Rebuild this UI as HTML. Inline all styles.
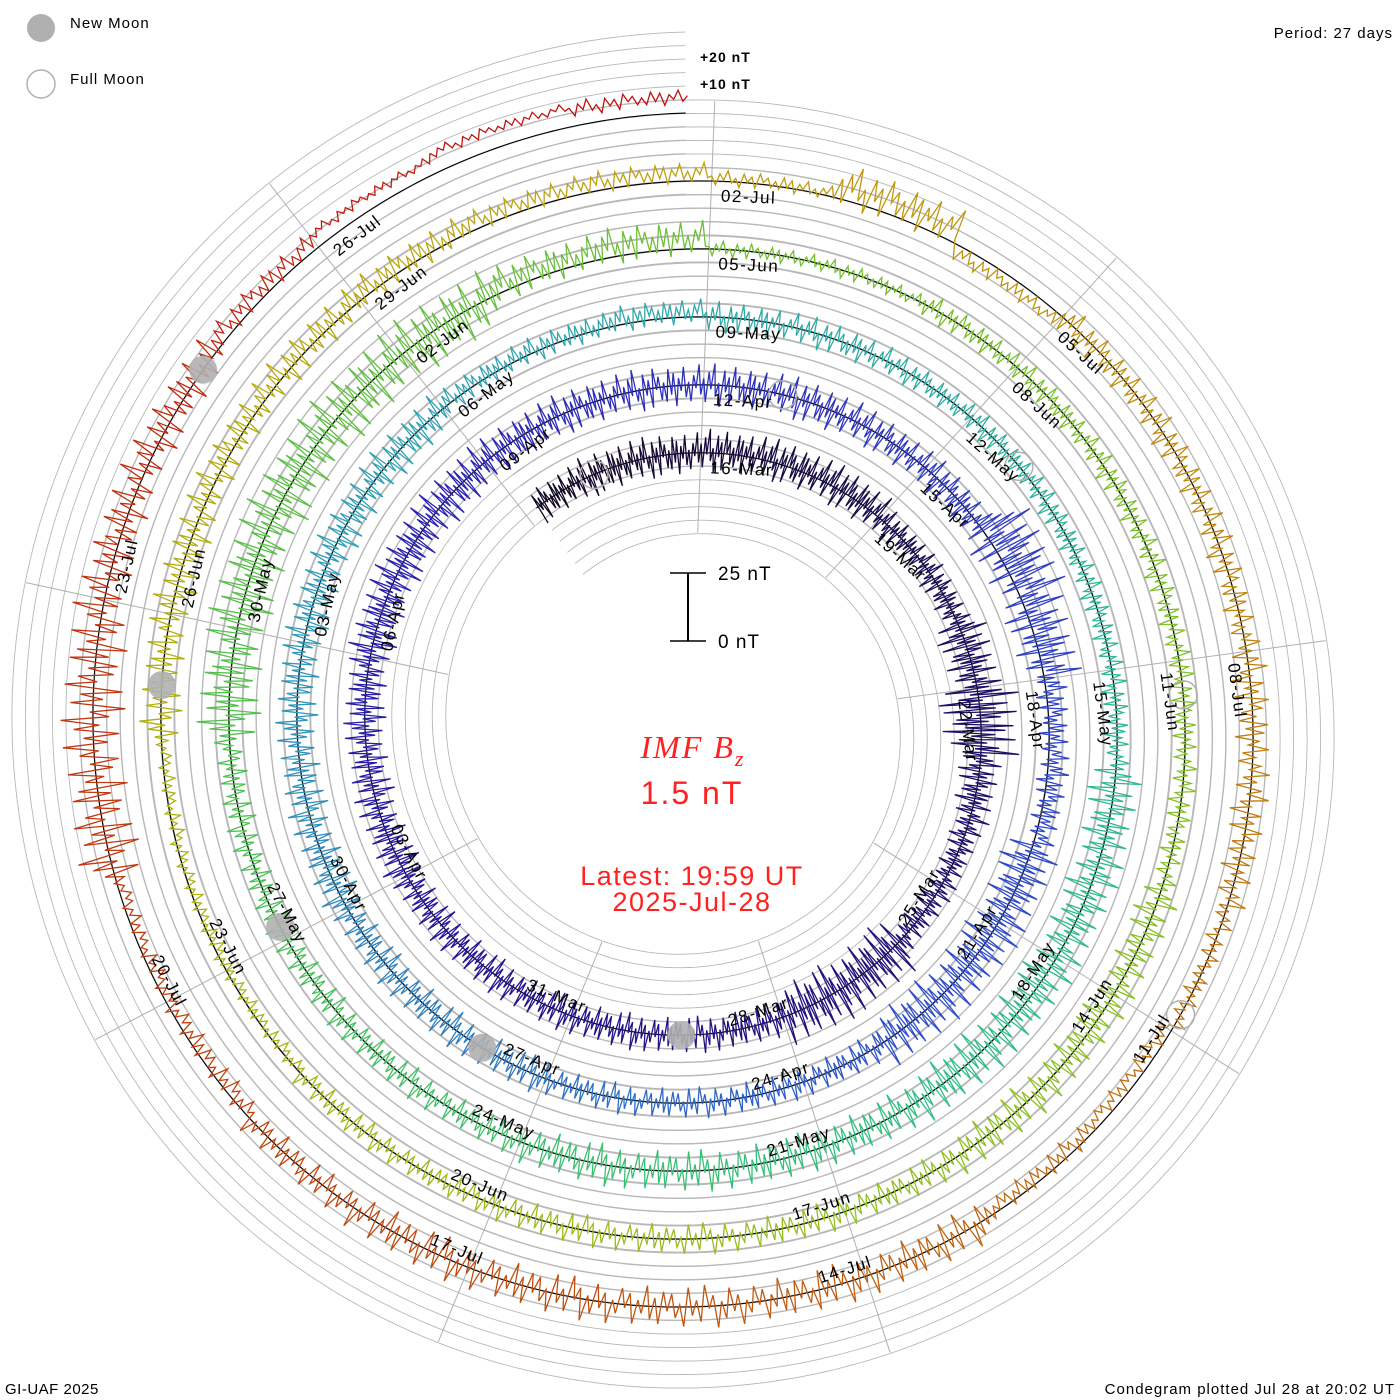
<!DOCTYPE html>
<html><head><meta charset="utf-8"><style>
html,body{margin:0;padding:0;background:#fff;}
svg{display:block;font-family:"Liberation Sans",sans-serif;}
</style></head><body>
<svg id="chart" width="1400" height="1400" viewBox="0 0 1400 1400" xmlns="http://www.w3.org/2000/svg">
<g id="grid"></g>
<g id="spokes"></g>
<g id="zero"></g>
<g id="data"></g>
<g id="moons"></g>
<g id="labels"></g>

<text x="700" y="62" font-size="14" font-weight="bold" letter-spacing="1">+20 nT</text>
<text x="700" y="89" font-size="14" font-weight="bold" letter-spacing="1">+10 nT</text>

<g>
<circle cx="41" cy="28" r="14" fill="#b0b0b0"/>
<text x="70" y="28" font-size="15" letter-spacing="1">New Moon</text>
<circle cx="41" cy="84" r="14" fill="none" stroke="#b0b0b0" stroke-width="1.5"/>
<text x="70" y="84" font-size="15" letter-spacing="1">Full Moon</text>
</g>
<text x="1393" y="38" font-size="15" letter-spacing="1" text-anchor="end">Period: 27 days</text>
<text x="5" y="1394" font-size="15" letter-spacing="0.5">GI-UAF 2025</text>
<text x="1395" y="1394" font-size="15" letter-spacing="1" text-anchor="end">Condegram plotted Jul 28 at 20:02 UT</text>

<g>
<line x1="688" y1="573" x2="688" y2="641" stroke="#000" stroke-width="2"/>
<line x1="670" y1="573" x2="706" y2="573" stroke="#000" stroke-width="1.5"/>
<line x1="670" y1="641" x2="706" y2="641" stroke="#000" stroke-width="1.5"/>
<text x="718" y="580" font-size="19" letter-spacing="1">25 nT</text>
<text x="718" y="648" font-size="19" letter-spacing="1">0 nT</text>
</g>
<text x="693" y="758" font-size="32" fill="#ff2020" text-anchor="middle" font-family="Liberation Serif, serif" font-style="italic" letter-spacing="2">IMF B<tspan font-size="22" dy="8">z</tspan></text>
<text x="692" y="804" font-size="32" fill="#ff2020" text-anchor="middle" letter-spacing="2">1.5 nT</text>
<text x="692" y="885" font-size="27" fill="#ff2020" text-anchor="middle" letter-spacing="1.5">Latest: 19:59 UT</text>
<text x="692" y="911" font-size="27" fill="#ff2020" text-anchor="middle" letter-spacing="1.5">2025-Jul-28</text>
</svg>
<script>
// daily values starting Mar 13 (index 0) to Jul 28 (index 137), nT
const dayMean = [0,0,0, 1,1,1, 0,0, 0,0,0, 0,0, 0,0, 0,0,0,0, 0,0, 0,0,0, 0,0,0, 0,0,0,
 0,0, 0,0, 5,3, 2,2, 0,0,0, 0,0,0,0, 0,0,0, 0,
 0,0, 0,0,0, 1,1,2, 0,0, 0,0,0, 0,0, 0,0,0,0, 0,0,0,0, 0,0,0, 0,0, 0,0,0,
 0,0, 3,4, 0,0, 0,0,0, 0,0,0, 0,0,0, 0,0,0,0, 0,0, -1,-1,-1, 0,0, 1,1,2, 3,
 3,1,5,-3, 0,0,0, 0,0, 0, -3,-2, 0,0,0, 0,0, 0, -2,-2, 0,0, 1,1, 3, 5,7,6];
const daySpread = [7,8,8, 8,8,8, 6,6, 10,15,8, 6,6, 12,12, 7,7,7,7, 7,7, 8,8,8, 9,9,9, 8,8,8,
 8,8, 7,7, 14,12, 6,6, 11,11,11, 6,6,6,6, 7,7,7, 8,
 8,8, 8,8,8, 5,5,5, 6,6, 5,5,5, 5,5, 10,10,10,10, 8,8,8,8, 6,6,6, 6,6, 12,12,12,
 12,12, 7,7, 3,3, 5,5,5, 5,5,5, 8,8,8, 6,6,6,6, 5,5, 3,3,3, 8,8, 7,7,6, 4,
 4,3,8,3, 6,6,6, 7,7, 4, 3,4, 8,8,8, 8,8, 6, 4,3, 12,12, 9,8, 4, 2,2,3];
const newMoons = [87.45, 116.8, 146.13, 175.42, 204.8];
const fullMoons = [72.27, 102.0, 131.7, 161.3, 190.86];
const monthNames = ["Jan","Feb","Mar","Apr","May","Jun","Jul","Aug","Sep","Oct","Nov","Dec"];

const cx=690, cy=727, rEnd=614, pitch=68, period=27, tEnd=208.83, tStart=71.2, day0=71, pxPerNT=2.7;
const NS="http://www.w3.org/2000/svg";
function ang(t){return 2*Math.PI*(t-tEnd)/period;}
function rad(t){return rEnd+pitch*(t-tEnd)/period;}
function pt(t,off){const a=ang(t),r=rad(t)+off;return [cx+r*Math.sin(a),cy-r*Math.cos(a)];}
function mk(tag,parent){const e=document.createElementNS(NS,tag);parent.appendChild(e);return e;}
function spiralPath(off,t1,t2){let s="";for(let t=t1;t<=t2+1e-9;t+=0.05){const p=pt(Math.min(t,t2),off);s+=(s?"L":"M")+p[0].toFixed(1)+" "+p[1].toFixed(1);}return s;}

// grid spirals
const grid=document.getElementById('grid');
for(let k=-6;k<=6;k++){
  const p=mk('path',grid);
  
  
  p.setAttribute('d',spiralPath(k*13.5,tStart,tEnd));
  p.setAttribute('fill','none');p.setAttribute('stroke','#b8b8b8');p.setAttribute('stroke-width','0.9');
}
// zero spiral
const zp=mk('path',document.getElementById('zero'));


zp.setAttribute('d',spiralPath(0,tStart,tEnd));
zp.setAttribute('fill','none');zp.setAttribute('stroke','#000');zp.setAttribute('stroke-width','1.1');

// spokes & labels
const spokes=document.getElementById('spokes'), labels=document.getElementById('labels');
const spokeTimes=[];for(let t=182-3*45;t<=tEnd;t+=3){if(t>=tStart)spokeTimes.push(t);}
spokeTimes.forEach(t=>{
  const last=t+period>tEnd, first=t-period<tStart;
  const a=pt(t,first?-80:-34), b=pt(t,last?80:34);
  const l=mk('line',spokes);
  
  
  l.setAttribute('x1',a[0]);l.setAttribute('y1',a[1]);l.setAttribute('x2',b[0]);l.setAttribute('y2',b[1]);
  l.setAttribute('stroke','#b0b0b0');l.setAttribute('stroke-width','1');
  const d=new Date(Date.UTC(2025,0,1)+Math.round(t)*86400000);
  const txt=String(d.getUTCDate()).padStart(2,'0')+"-"+monthNames[d.getUTCMonth()];
  let deg=((ang(t)*180/Math.PI)%360+360)%360;
  const flip=deg>95&&deg<265;
  const r=flip?rad(t)-7:rad(t)-20;
  const a2=flip?ang(t)-10/r:ang(t)+10/r;
  const x=cx+r*Math.sin(a2), y=cy-r*Math.cos(a2);
  const tx=mk('text',labels);
  
  
  tx.setAttribute('transform','translate('+x.toFixed(1)+','+y.toFixed(1)+') rotate('+(flip?deg+180:deg).toFixed(2)+')');
  tx.setAttribute('font-size','17');tx.setAttribute('letter-spacing','1.5');
  if(flip)tx.setAttribute('text-anchor','end');
  tx.textContent=txt;
});

// color scale
const cStops=[[0,"#120828"],[8,"#1e1060"],[18,"#24148e"],[25,"#2a22b0"],[32,"#3038c0"],[40,"#3050c8"],[46,"#3080c0"],[52,"#30a0b8"],[60,"#30b0a0"],[68,"#30c080"],[76,"#50c050"],[84,"#70c030"],[95,"#90c020"],[104,"#b0b010"],[110,"#c0a010"],[117,"#c08010"],[125,"#c05010"],[132,"#c03010"],[137,"#c01010"]];
function hex(h){return [1,3,5].map(i=>parseInt(h.substr(i,2),16));}
function colorAt(i){for(let k=0;k<cStops.length-1;k++){const [a,ca]=cStops[k],[b,cb]=cStops[k+1];if(i>=a&&i<=b){const f=(i-a)/(b-a),A=hex(ca),B=hex(cb);return "rgb("+A.map((v,j)=>Math.round(v+(B[j]-v)*f)).join(",")+")";}}return cStops[cStops.length-1][1];}

// data (zigzag shape pattern within daily spread)
const pat=[0.3,-0.8,0.6,-0.2,1,-0.5,0.1,-1,0.7,-0.3,0.4,-0.9,0.9,-0.1,0.5,-0.6,0.2,-0.7,0.8,-0.4,0.6,-0.95,0.35,-0.25,0.85,-0.55,0.15,-0.75,0.45,-0.15,0.95,-0.45];
const SUB=pat.length;
const dataG=document.getElementById('data');
function val(i,j){return dayMean[i]+daySpread[i]*pat[j];}
for(let i=0;i<dayMean.length;i++){
  let s="";
  for(let j=0;j<=SUB;j++){
    let ii=i,jj=j; if(j===SUB){ii=i+1;jj=0;if(ii>=dayMean.length)break;}
    const t=day0+ii+jj/SUB;
    if(t<tStart||t>tEnd)continue;
    const p=pt(t,val(ii,jj)*pxPerNT);
    s+=(s?"L":"M")+p[0].toFixed(1)+" "+p[1].toFixed(1);
  }
  if(!s)continue;
  const pl=mk('path',dataG);
  
  
  pl.setAttribute('d',s);pl.setAttribute('fill','none');pl.setAttribute('stroke',colorAt(i));pl.setAttribute('stroke-width','1.3');
}

// moons
const moonG=document.getElementById('moons');
newMoons.forEach(t=>{const p=pt(t,0);const c=mk('circle',moonG);
  
  
  c.setAttribute('cx',p[0]);c.setAttribute('cy',p[1]);c.setAttribute('r','14');c.setAttribute('fill','#b0b0b0');c.setAttribute('fill-opacity','0.9');});
fullMoons.forEach(t=>{const p=pt(t,0);const c=mk('circle',moonG);
  
  
  c.setAttribute('cx',p[0]);c.setAttribute('cy',p[1]);c.setAttribute('r','14');c.setAttribute('fill','none');c.setAttribute('stroke','#b0b0b0');c.setAttribute('stroke-width','1.5');});
</script>
</body></html>
